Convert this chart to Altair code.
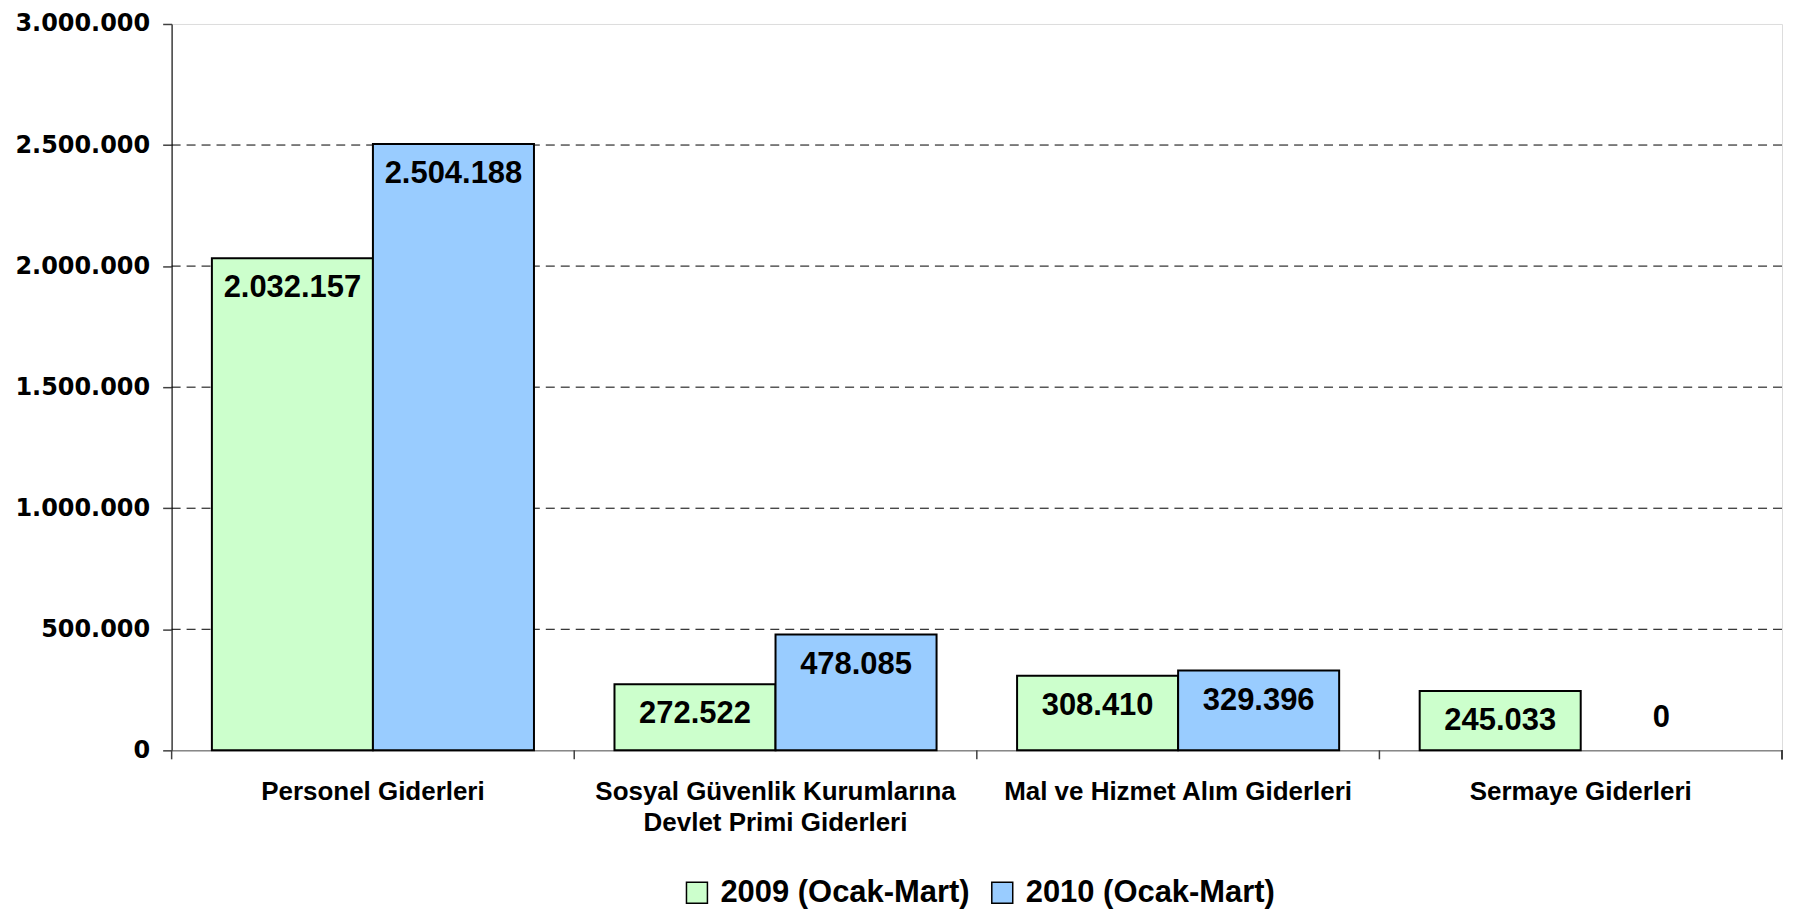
import altair as alt
import pandas as pd

categories = [
    "Personel Giderleri",
    "Sosyal Güvenlik Kurumlarına|Devlet Primi Giderleri",
    "Mal ve Hizmet Alım Giderleri",
    "Sermaye Giderleri",
]
series = ["2009 (Ocak-Mart)", "2010 (Ocak-Mart)"]
values_2009 = [2032157, 272522, 308410, 245033]
values_2010 = [2504188, 478085, 329396, 0]
y_ticks = [0, 500000, 1000000, 1500000, 2000000, 2500000, 3000000]
grid_values = [500000, 1000000, 1500000, 2000000, 2500000]
colors = ["#CCFFCC", "#99CCFF"]

W = 1614
H = 728

rows = []
for c, v in zip(categories, values_2009):
    rows.append({"cat": c, "series": series[0], "value": v})
for c, v in zip(categories, values_2010):
    rows.append({"cat": c, "series": series[1], "value": v})
df = pd.DataFrame(rows)
grid_df = pd.DataFrame({"value": grid_values})
cat_df = pd.DataFrame({"cat": categories})

x_axis = alt.Axis(
    title=None,
    labelAngle=0,
    labelFont="Liberation Sans",
    labelFontWeight="bold",
    labelFontSize=26,
    labelColor="#000000",
    labelPadding=28,
    labelLineHeight=31,
    labelLimit=0,
    labelExpr="split(datum.label, '|')",
    labelBaseline="top",
    ticks=False,
    domainColor="#888888",
    domainWidth=1.5,
    grid=False,
)
x_scale = alt.Scale(paddingInner=0, paddingOuter=0)
y_axis = alt.Axis(
    title=None,
    values=y_ticks,
    format=",.0f",
    labelFont="DejaVu Sans",
    labelFontWeight="bold",
    labelFontSize=24,
    labelColor="#000000",
    labelPadding=13,
    tickSize=9,
    tickColor="#404040",
    tickWidth=1.5,
    domainColor="#404040",
    domainWidth=1.5,
    grid=False,
)
y_scale = alt.Scale(domain=[0, 3000000], nice=False)

xoff_enc = alt.XOffset(
    "series:N", sort=series, scale=alt.Scale(paddingOuter=0.25, paddingInner=0)
)

grid = alt.Chart(grid_df).mark_rule(
    color="#000000", strokeWidth=1, strokeDash=[9, 6]
).encode(
    y=alt.Y("value:Q", scale=y_scale, axis=y_axis),
    x=alt.value(0),
    x2=alt.value(W),
)

bars = alt.Chart(df).transform_filter("datum.value > 0").mark_bar(
    stroke="#000000", strokeWidth=2
).encode(
    x=alt.X("cat:N", sort=categories, scale=x_scale, axis=x_axis),
    xOffset=xoff_enc,
    y=alt.Y("value:Q", scale=y_scale, axis=y_axis),
    color=alt.Color(
        "series:N",
        sort=series,
        scale=alt.Scale(domain=series, range=colors),
        legend=alt.Legend(
            title=None,
            orient="none",
            direction="horizontal",
            legendX=511,
            legendY=855,
            symbolType="square",
            symbolSize=441,
            symbolStrokeColor="#000000",
            symbolStrokeWidth=1.5,
            symbolOpacity=1,
            labelFont="Liberation Sans",
            labelFontWeight="bold",
            labelFontSize=31,
            labelColor="#000000",
            labelLimit=0,
            labelOffset=8,
            columnPadding=17,
            padding=0,
        ),
    ),
)

text_style = dict(
    font="Liberation Sans", fontWeight="bold", fontSize=31, color="#000000",
    align="center", baseline="middle",
)
labels = alt.Chart(df).transform_filter("datum.value > 0").mark_text(
    dy=30, **text_style
).encode(
    x=alt.X("cat:N", sort=categories, scale=x_scale, axis=x_axis),
    xOffset=xoff_enc,
    y=alt.Y("value:Q", scale=y_scale, axis=y_axis),
    text=alt.Text("value:Q", format=","),
)
zero_labels = alt.Chart(df).transform_filter("datum.value == 0").mark_text(
    dy=-32, **text_style
).encode(
    x=alt.X("cat:N", sort=categories, scale=x_scale, axis=x_axis),
    xOffset=xoff_enc,
    y=alt.Y("value:Q", scale=y_scale, axis=y_axis),
    text=alt.Text("value:Q", format=","),
)

ticks = alt.Chart(cat_df).mark_rule(color="#404040", strokeWidth=1.5).encode(
    x=alt.X("cat:N", sort=categories, scale=x_scale, axis=x_axis, bandPosition=0),
    y=alt.value(H),
    y2=alt.value(H + 9),
)
end_tick = alt.Chart(cat_df).mark_rule(color="#404040", strokeWidth=1.5).encode(
    x=alt.value(W),
    y=alt.value(H),
    y2=alt.value(H + 9),
)

chart = alt.layer(grid, bars, labels, zero_labels, ticks, end_tick).properties(
    width=W,
    height=H,
    autosize=alt.AutoSizeParams(type="none"),
    padding={"left": 164, "top": 15, "right": 4, "bottom": 160},
).configure_view(
    stroke="#888888", strokeWidth=2
).configure(
    locale={"number": {"decimal": ",", "thousands": ".", "grouping": [3], "currency": ["", " TL"]}},
    background="#ffffff",
)

chart.save("out.html", embed_options={"renderer": "svg", "actions": False})
